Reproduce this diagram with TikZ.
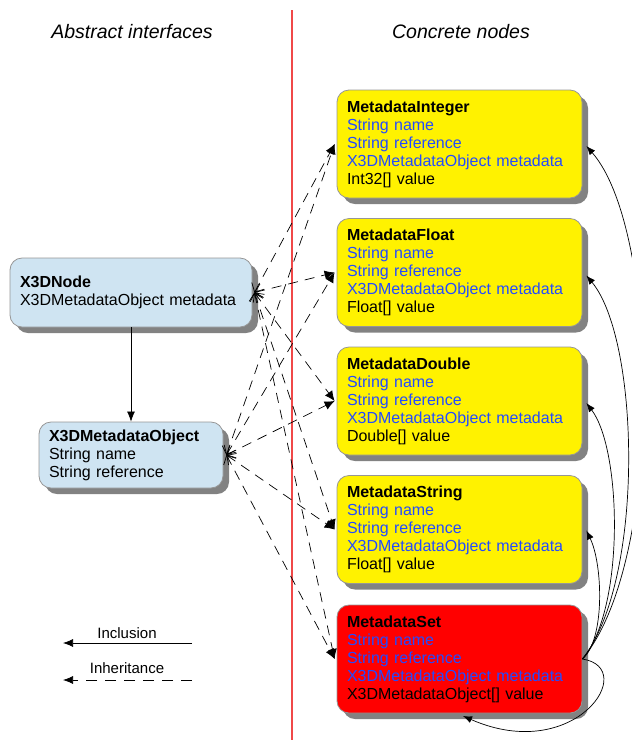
\documentclass[tikz,border=0pt]{standalone}
\usepackage{fontspec}
\setmainfont{Liberation Sans}
\usetikzlibrary{arrows.meta,shadows,calc}
\definecolor{boxblue}{RGB}{207,228,242}
\definecolor{txtblue}{RGB}{35,75,255}
\definecolor{sepred}{RGB}{240,72,72}
\definecolor{shadowgray}{RGB}{130,130,130}
\definecolor{bordergray}{RGB}{150,150,150}
\begin{document}
\begin{tikzpicture}[x=1pt,y=-1pt,
  box/.style={draw=bordergray, line width=0.8pt, rounded corners=12pt, align=left,
    inner xsep=10pt, inner ysep=0pt, font=\fontsize{16}{18}\selectfont,
    drop shadow={shadow xshift=6pt,shadow yshift=-6pt,fill=shadowgray,opacity=1}},
  abox/.style={box, fill=boxblue},
  cbox/.style={box, minimum width=245pt, minimum height=108pt, text width=225pt},
  header/.style={font=\fontsize{19.5}{22}\selectfont\itshape},
  legend/.style={font=\fontsize{15}{17}\selectfont},
  inh/.style={line width=0.7pt, dash pattern=on 10pt off 7pt,
    arrows={Straight Barb[length=7pt,width=14pt]-Latex[length=10pt,width=9pt]}},
  incl/.style={line width=0.7pt, -{Latex[length=10pt,width=8pt]}},
  loopc/.style={line width=0.7pt, -{Latex[length=9pt,width=7pt]}}
]
\useasboundingbox (0,0) rectangle (632,740);

% headers and separator
\node[header] (h1) at (132,32) {Abstract interfaces};
\node[header] (h2) at (461,32) {Concrete nodes};
\coordinate (sepT) at (292,10);
\coordinate (sepB) at (292,740);
\draw[sepred, line width=1.6pt] (sepT) -- (sepB);

% abstract boxes
\node[abox, minimum width=242pt, minimum height=69pt, text width=222pt] (x3dnode) at (131,292.5)
  {\textbf{X3DNode}\\X3DMetadataObject metadata};
\node[abox, minimum width=184pt, minimum height=66pt, text width=164pt] (mdobj) at (131,455)
  {\textbf{X3DMetadataObject}\\String name\\String reference};

% concrete boxes
\node[cbox, fill=yellow] (mint) at (459.5,144)
  {\textbf{MetadataInteger}\\\textcolor{txtblue}{String name}\\\textcolor{txtblue}{String reference}\\\textcolor{txtblue}{X3DMetadataObject metadata}\\Int32[] value};
\node[cbox, fill=yellow] (mfloat) at (459.5,272.5)
  {\textbf{MetadataFloat}\\\textcolor{txtblue}{String name}\\\textcolor{txtblue}{String reference}\\\textcolor{txtblue}{X3DMetadataObject metadata}\\Float[] value};
\node[cbox, fill=yellow] (mdouble) at (459.5,401)
  {\textbf{MetadataDouble}\\\textcolor{txtblue}{String name}\\\textcolor{txtblue}{String reference}\\\textcolor{txtblue}{X3DMetadataObject metadata}\\Double[] value};
\node[cbox, fill=yellow] (mstring) at (459.5,529.5)
  {\textbf{MetadataString}\\\textcolor{txtblue}{String name}\\\textcolor{txtblue}{String reference}\\\textcolor{txtblue}{X3DMetadataObject metadata}\\Float[] value};
\node[cbox, fill=red] (mset) at (459.5,659)
  {\textbf{MetadataSet}\\\textcolor{txtblue}{String name}\\\textcolor{txtblue}{String reference}\\\textcolor{txtblue}{X3DMetadataObject metadata}\\X3DMetadataObject[] value};

% inclusion X3DNode -> X3DMetadataObject
\draw[incl] (x3dnode.south) -- (mdobj.north);

% inheritance lines
\foreach \c in {mint,mfloat,mdouble,mstring,mset}{
  \draw[inh] ($(x3dnode.east)+(2,0)$) -- ($(\c.west)+(-2,0)$);
  \draw[inh] ($(mdobj.east)+(3,0)$) -- ($(\c.west)+(-2,0)$);
}

% inclusion curves from MetadataSet
\draw[loopc] (mset.east) .. controls (665,560) and (660,230) .. ($(mint.east)+(4,2)$);
\draw[loopc] (mset.east) .. controls (645,580) and (640,340) .. ($(mfloat.east)+(4,3)$);
\draw[loopc] (mset.east) .. controls (625,610) and (622,450) .. ($(mdouble.east)+(4,2)$);
\draw[loopc] (mset.east) .. controls (605,640) and (603,565) .. ($(mstring.east)+(4,1)$);
\coordinate (selfend) at (463,716);
\draw[loopc] (mset.east) .. controls (640,668) and (575,765) .. (selfend);

% legend
\node[legend] (linc) at (127,633) {Inclusion};
\coordinate (l1a) at (192,643);
\coordinate (l1b) at (63,643);
\draw[incl] (l1a) -- (l1b);
\node[legend] (linh) at (127,668) {Inheritance};
\coordinate (l2a) at (192,680);
\coordinate (l2b) at (63,680);
\draw[line width=0.7pt, dash pattern=on 11pt off 8pt, -{Latex[length=10pt,width=8pt]}] (l2a) -- (l2b);
\end{tikzpicture}
\end{document}
